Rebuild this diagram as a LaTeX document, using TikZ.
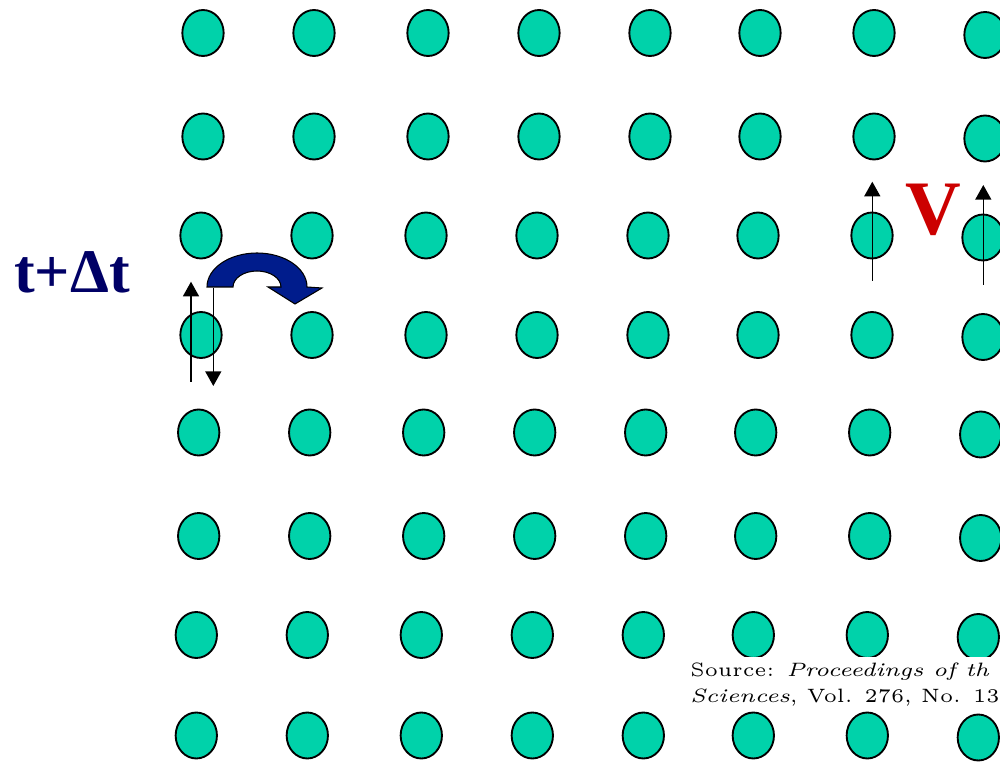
\documentclass[tikz,border=0pt]{standalone}
\usepackage{fontspec}
\usetikzlibrary{shapes.geometric,arrows.meta}
\newfontfamily\tnr{Liberation Serif}
\newfontfamily\srcfont{lmroman5-regular.otf}[ItalicFont=lmroman7-italic.otf,ItalicFeatures={FakeStretch=1.2}]
\definecolor{dotfill}{RGB}{0,210,170}
\definecolor{hopblue}{RGB}{0,28,140}
\definecolor{navytext}{RGB}{0,0,102}
\definecolor{vred}{RGB}{204,0,0}
\tikzset{
  dot/.style={ellipse,draw=black,line width=1.4pt,fill=dotfill,
    minimum width=31pt,minimum height=34.5pt,inner sep=0pt},
  spinarrow/.style={line width=1.1pt,-{Triangle[length=11pt,width=12pt]}},
  srcline/.style={anchor=base west,inner sep=0pt,font=\srcfont\fontsize{14.5pt}{19.5pt}\selectfont},
}
\begin{document}
\begin{tikzpicture}[x=0.75pt,y=-0.75pt]
\useasboundingbox (0,0) rectangle (1000,762);
\clip (0,0) rectangle (1000,762);
% lattice
\foreach \r/\y/\s in {1/33/0,2/136.5/0,3/235.5/2,4/335/2,5/432.5/4.3,6/536/4.3,7/635/6.7,8/735.5/6.7}{
  \foreach \c/\x in {1/203,2/314,3/428,4/539,5/650,6/760,7/874,8/985}{
    \node[dot] (d\r\c) at ({\x-\s},{\y+(\c==8)*2}) {};
  }
}
% hopping arrow
\draw[line width=0.8pt,fill=hopblue]
  (207,287) arc[start angle=180,end angle=0,x radius=37.5pt,y radius=25.5pt]
  -- (322,288) -- (295,304) -- (268,287) -- (281,287)
  arc[start angle=0,end angle=180,x radius=18pt,y radius=12pt] -- cycle;
% spin arrows
\coordinate (ua0) at (191,381.7); \coordinate (ua1) at (191,281.7);
\coordinate (da0) at (213.3,288); \coordinate (da1) at (213.3,386);
\coordinate (va0) at (872.3,280.7); \coordinate (va1) at (872.3,181.7);
\coordinate (vb0) at (983.3,285); \coordinate (vb1) at (983.3,185);
\draw[spinarrow] (ua0) -- (ua1);
\draw[spinarrow] (da0) -- (da1);
\draw[spinarrow] (va0) -- (va1);
\draw[spinarrow] (vb0) -- (vb1);
% labels
\node[anchor=base west,inner sep=0pt,text=navytext,font=\tnr\bfseries\fontsize{46.5pt}{50pt}\selectfont] (tdt) at (14,293) {t+Δt};
\node[anchor=base,inner sep=0pt,text=vred,font=\tnr\bfseries\fontsize{57.8pt}{60pt}\selectfont] (V) at (933,235) {V};
% source
\fill[white] (686,657) rectangle (1000,710);
\node[srcline] (src1) at (690,676.7) {Source: \textit{Proceedings of th}};
\node[srcline] (src2) at (690,702.7) {\textit{Sciences}, Vol. 276, No. 136};
\end{tikzpicture}
\end{document}
